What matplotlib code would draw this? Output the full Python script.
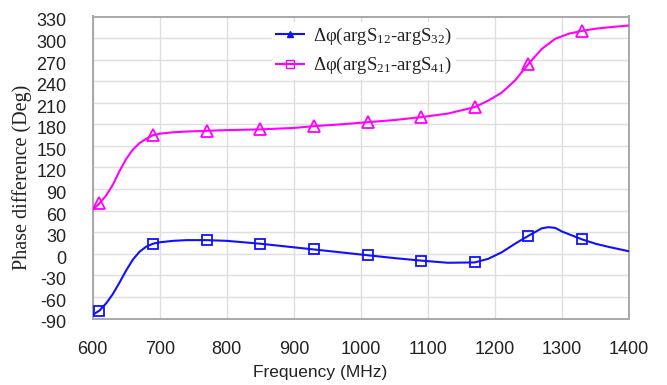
import matplotlib
matplotlib.use("Agg")
import matplotlib.pyplot as plt
import matplotlib.transforms as mtransforms
from matplotlib.lines import Line2D

plt.rcParams['mathtext.fontset'] = 'custom'
plt.rcParams['mathtext.rm'] = 'Liberation Serif'
plt.rcParams['mathtext.it'] = 'Liberation Serif:italic'
plt.rcParams['mathtext.default'] = 'rm'
plt.rcParams['axes.unicode_minus'] = False

# ---- data ----
freq_a = [600, 610, 620, 630, 640, 650, 660, 670, 680, 690, 700, 720, 740, 770, 800,
          850, 900, 930, 970, 1010, 1050, 1090, 1130, 1170, 1190, 1210, 1230, 1250,
          1270, 1280, 1290, 1300, 1330, 1350, 1370, 1400]
phase_a = [-85, -79, -69, -56, -40, -23, -8, 3, 10, 14, 16, 18, 19, 19, 18,
           14, 9, 6, 2, -2, -6, -9.5, -12.5, -12, -7, 2, 14, 25,
           35.5, 37, 36, 31, 20, 14, 9.5, 3.5]

freq_b = [600, 610, 620, 630, 640, 650, 660, 670, 680, 690, 700, 720, 740, 770, 800,
          850, 900, 930, 970, 1010, 1050, 1090, 1130, 1170, 1190, 1210, 1230, 1250,
          1270, 1290, 1310, 1330, 1350, 1370, 1400]
phase_b = [61, 70, 81, 96, 115, 132, 145, 154, 160, 165, 167, 169, 170, 171, 172,
           173, 175, 177.5, 180, 183, 186, 190, 195, 204, 213, 224, 241, 264,
           285, 299, 306, 310, 313, 315, 317.5]

marker_freqs = [610, 690, 770, 850, 930, 1010, 1090, 1170, 1250, 1330]

label_a = r'Δφ(argS$_{12}$-argS$_{32}$)'
label_b = r'Δφ(argS$_{21}$-argS$_{41}$)'

xticks = [600, 700, 800, 900, 1000, 1100, 1200, 1300, 1400]
yticks = list(range(-90, 331, 30))

blue = '#1010ff'
magenta = '#ff00ff'

fig = plt.figure(figsize=(6.67, 3.85), dpi=100)
ax = fig.add_axes([92.7 / 667, 1 - 318.5 / 385, (629 - 92.7) / 667, (318.5 - 16.5) / 385])

mk_a = [i for i, f in enumerate(freq_a) if f in marker_freqs]
mk_b = [i for i, f in enumerate(freq_b) if f in marker_freqs]

ax.plot(freq_a, phase_a, color=blue, lw=1.5, marker='s', markevery=mk_a,
        markersize=7.5, markerfacecolor='none', markeredgecolor=blue, markeredgewidth=1.3,
        zorder=3)
ax.plot(freq_b, phase_b, color=magenta, lw=1.5, marker='^', markevery=mk_b,
        markersize=8.5, markerfacecolor='none', markeredgecolor=magenta, markeredgewidth=1.3,
        zorder=3)

ax.set_xlim(600, 1400)
ax.set_ylim(-90, 330)
ax.set_xticks(xticks)
ax.set_yticks(yticks)
ax.grid(True, color='#dedede', lw=1.0)
ax.set_axisbelow(True)
for s in ax.spines.values():
    s.set_color('#a8a8a8')
    s.set_linewidth(1.4)
ax.tick_params(length=0, labelsize=13, colors='#222222', pad=16)
ax.tick_params(axis='y', pad=19)
for lab in ax.get_xticklabels() + ax.get_yticklabels():
    lab.set_family('Liberation Sans')
offset = mtransforms.ScaledTranslation(0, -3.5 / 100, fig.dpi_scale_trans)
for lab in ax.get_yticklabels():
    lab.set_transform(lab.get_transform() + offset)

fig.text(22 / 667, 1 - 177 / 385, 'Phase difference (Deg)', rotation=90,
         ha='center', va='center', fontsize=14.5, family='Liberation Serif', color='#222222')
fig.text(320 / 667, 1 - 373 / 385, 'Frequency (MHz)', ha='center', va='center',
         fontsize=12.5, family='Liberation Sans', color='#222222')

handles = [Line2D([], [], color=blue, lw=1.5, marker='^', markersize=5,
                  markerfacecolor=blue, markeredgecolor=blue),
           Line2D([], [], color=magenta, lw=1.5, marker='s', markersize=6,
                  markerfacecolor='none', markeredgecolor=magenta)]
leg = ax.legend(handles, [label_a, label_b], loc='upper left',
                bbox_to_anchor=((272 - 92.7) / (629 - 92.7), 1 - (22 - 16.5) / (318.5 - 16.5)),
                frameon=True, facecolor='white', edgecolor='none', framealpha=1,
                prop={'family': 'Liberation Serif', 'size': 13.5}, handlelength=1.5,
                handletextpad=0.5, labelspacing=0.45, borderpad=0.2, borderaxespad=0)
for t in leg.get_texts():
    t.set_color('#222222')

fig.savefig('out.png', dpi=100)
